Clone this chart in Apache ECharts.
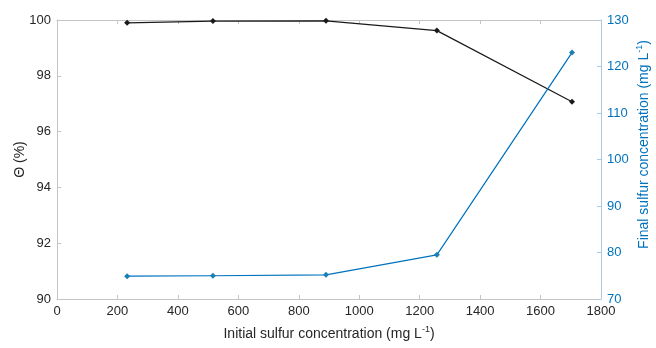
<!DOCTYPE html>
<html lang="en">
<head>
    <meta charset="UTF-8">
    <title>Sulfur removal</title>
    <style>
        body { margin: 0; background: #fff; }
        #main { width: 656px; height: 348px; }
    </style>
</head>
<body>
    <div id="main"></div>
    <script src="https://cdn.jsdelivr.net/npm/echarts@6/dist/echarts.min.js"></script>
    <script>
        // initial sulfur concentration (mg/L)
        let initialConc = [232, 516, 890, 1257, 1704];
        // removal efficiency, %
        let theta = [99.90, 99.96, 99.97, 99.62, 97.07];
        // final sulfur concentration (mg/L)
        let finalConc = [74.9, 75.0, 75.2, 79.5, 123.0];

        let black = '#1a1a1a';
        let blue = '#0072BD';
        let grey = '#c4c4c4';
        let font = 'Liberation Sans, Arial, sans-serif';

        function pairs(xs, ys) {
            return xs.map(function (x, i) { return [x, ys[i]]; });
        }
        function plain(v) { return String(v); }

        let chart = echarts.init(document.getElementById('main'));
        chart.setOption({
            animation: false,
            textStyle: { fontFamily: font },
            grid: { left: 57, right: 55, top: 20, bottom: 49, containLabel: false, outerBoundsMode: 'none' },
            xAxis: [{
                type: 'value',
                min: 0, max: 1800, interval: 200,
                name: 'Initial sulfur concentration (mg L{sup|-1})',
                nameLocation: 'middle',
                nameGap: 26,
                nameTextStyle: {
                    color: '#262626', fontSize: 14,
                    rich: { sup: { fontSize: 9, color: '#262626', padding: [0, 0, 9, 0] } }
                },
                axisLine: { onZero: false, lineStyle: { color: grey, width: 1 } },
                axisTick: { inside: true, length: 4, lineStyle: { color: grey } },
                axisLabel: { color: '#262626', fontSize: 13, margin: 6, formatter: plain },
                splitLine: { show: false }
            }, {
                type: 'value',
                position: 'top',
                min: 0, max: 1800, interval: 200,
                axisLine: { show: true, onZero: false, lineStyle: { color: grey, width: 1 } },
                axisTick: { show: true, inside: true, length: 4, lineStyle: { color: grey } },
                axisLabel: { show: false },
                splitLine: { show: false }
            }],
            yAxis: [{
                type: 'value',
                min: 90, max: 100, interval: 2,
                name: 'Θ (%)',
                nameLocation: 'middle',
                nameGap: 30,
                nameMoveOverlap: false,
                nameTextStyle: { color: '#262626', fontSize: 14 },
                axisLine: { show: true, onZero: false, lineStyle: { color: grey, width: 1 } },
                axisTick: { show: true, inside: true, length: 4, lineStyle: { color: grey } },
                axisLabel: { color: '#262626', fontSize: 13, margin: 6, formatter: plain },
                splitLine: { show: false }
            }, {
                type: 'value',
                position: 'right',
                min: 70, max: 130, interval: 10,
                name: 'Final sulfur concentration (mg L{sup|-1})',
                nameLocation: 'middle',
                nameRotate: 90,
                nameGap: 34,
                nameMoveOverlap: false,
                nameTextStyle: {
                    color: blue, fontSize: 14,
                    padding: [0, 0, 0, 30],
                    rich: { sup: { fontSize: 9, color: blue, padding: [0, 0, 9, 0] } }
                },
                axisLine: { show: true, onZero: false, lineStyle: { color: '#a9c9e8', width: 1 } },
                axisTick: { show: true, inside: true, length: 4, lineStyle: { color: '#a9c9e8' } },
                axisLabel: { color: blue, fontSize: 13, margin: 6, formatter: plain },
                splitLine: { show: false }
            }],
            series: [{
                name: 'Theta',
                type: 'line',
                yAxisIndex: 0,
                data: pairs(initialConc, theta),
                symbol: 'diamond',
                symbolSize: 6,
                itemStyle: { color: black },
                lineStyle: { color: black, width: 1.2 }
            }, {
                name: 'Final',
                type: 'line',
                yAxisIndex: 1,
                data: pairs(initialConc, finalConc),
                symbol: 'diamond',
                symbolSize: 6,
                itemStyle: { color: '#1a7fb5' },
                lineStyle: { color: blue, width: 1.2 }
            }]
        });
    </script>
</body>
</html>
